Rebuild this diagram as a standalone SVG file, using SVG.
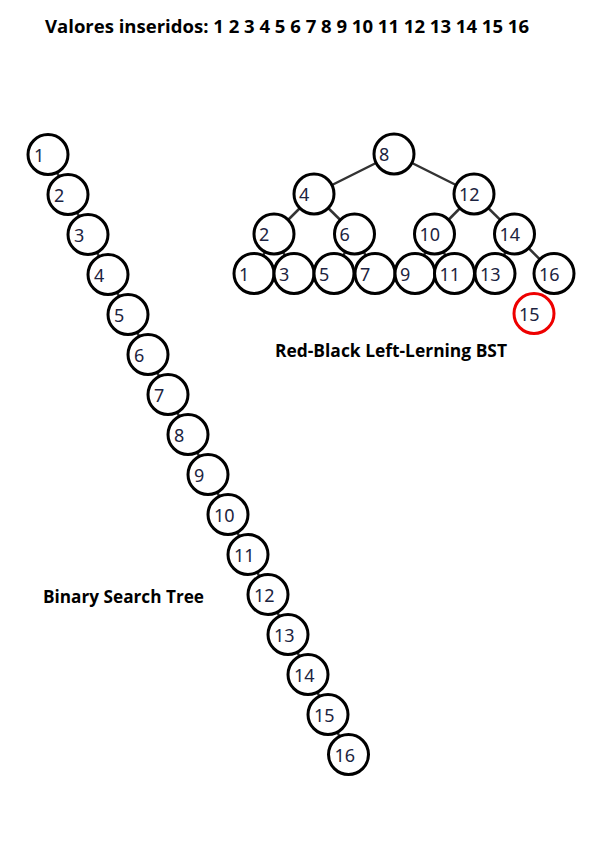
<svg xmlns="http://www.w3.org/2000/svg" width="595" height="842" viewBox="0 0 595 842">
<style>
.n{fill:#fff;stroke:#000;stroke-width:3}
.r{fill:#fff;stroke:#e00;stroke-width:3}
.t{font-family:"Noto Sans","DejaVu Sans",sans-serif;font-size:18px;fill:#1c2340}
.e{stroke:#333;stroke-width:2.5;fill:none}
.h{font-family:"Open Sans","Liberation Sans",sans-serif;font-weight:bold;font-size:17px;fill:#000}
</style>
<rect width="595" height="842" fill="#fff"/>
<text class="h" x="45" y="33" textLength="484" lengthAdjust="spacingAndGlyphs">Valores inseridos: 1 2 3 4 5 6 7 8 9 10 11 12 13 14 15 16</text>
<text class="h" x="275" y="357" textLength="232" lengthAdjust="spacingAndGlyphs">Red-Black Left-Lerning BST</text>
<text class="h" x="43" y="603" textLength="161" lengthAdjust="spacingAndGlyphs">Binary Search Tree</text>
<g id="connectors">
<line class="e" x1="48" y1="154.5" x2="348.5" y2="754.5"/>
<line class="e" x1="394" y1="154" x2="314" y2="194"/>
<line class="e" x1="394" y1="154" x2="474" y2="194"/>
<line class="e" x1="314" y1="194" x2="274" y2="234"/>
<line class="e" x1="314" y1="194" x2="354.5" y2="234"/>
<line class="e" x1="474" y1="194" x2="434.5" y2="234"/>
<line class="e" x1="474" y1="194" x2="514.5" y2="234"/>
<line class="e" x1="514.5" y1="234" x2="554" y2="273.5"/>
<line class="e" x1="274" y1="234" x2="254" y2="273.5"/>
<line class="e" x1="274" y1="234" x2="294" y2="273.5"/>
<line class="e" x1="354.5" y1="234" x2="334" y2="273.5"/>
<line class="e" x1="354.5" y1="234" x2="375" y2="273.5"/>
<line class="e" x1="434.5" y1="234" x2="415" y2="273.5"/>
<line class="e" x1="434.5" y1="234" x2="454.5" y2="273.5"/>
<line class="e" x1="514.5" y1="234" x2="495" y2="273.5"/>
</g>
<g id="bst">
<g id="b1"><circle class="n" cx="48" cy="154.5" r="20"/><text class="t" x="34" y="162">1</text></g>
<g id="b2"><circle class="n" cx="68" cy="194.5" r="20"/><text class="t" x="54" y="202">2</text></g>
<g id="b3"><circle class="n" cx="88" cy="234.5" r="20"/><text class="t" x="74" y="242">3</text></g>
<g id="b4"><circle class="n" cx="108" cy="274.5" r="20"/><text class="t" x="94" y="282">4</text></g>
<g id="b5"><circle class="n" cx="128" cy="314.5" r="20"/><text class="t" x="114" y="322">5</text></g>
<g id="b6"><circle class="n" cx="148" cy="354.5" r="20"/><text class="t" x="134" y="362">6</text></g>
<g id="b7"><circle class="n" cx="168" cy="394.5" r="20"/><text class="t" x="154" y="402">7</text></g>
<g id="b8"><circle class="n" cx="188" cy="434.5" r="20"/><text class="t" x="174" y="442">8</text></g>
<g id="b9"><circle class="n" cx="208" cy="474.5" r="20"/><text class="t" x="194" y="482">9</text></g>
<g id="b10"><circle class="n" cx="228" cy="514.5" r="20"/><text class="t" x="214" y="522">10</text></g>
<g id="b11"><circle class="n" cx="248" cy="554.5" r="20"/><text class="t" x="234" y="562">11</text></g>
<g id="b12"><circle class="n" cx="268" cy="594.5" r="20"/><text class="t" x="254" y="602">12</text></g>
<g id="b13"><circle class="n" cx="288" cy="634.5" r="20"/><text class="t" x="274" y="642">13</text></g>
<g id="b14"><circle class="n" cx="308" cy="674.5" r="20"/><text class="t" x="294" y="682">14</text></g>
<g id="b15"><circle class="n" cx="328" cy="714.5" r="20"/><text class="t" x="314" y="722">15</text></g>
<g id="b16"><circle class="n" cx="348.5" cy="754.5" r="20"/><text class="t" x="334.5" y="762">16</text></g>
</g>
<g id="rb">
<g id="r8"><circle class="n" cx="394" cy="154" r="20"/><text class="t" x="379" y="161">8</text></g>
<g id="r4"><circle class="n" cx="314" cy="194" r="20"/><text class="t" x="299" y="201">4</text></g>
<g id="r12"><circle class="n" cx="474" cy="194" r="20"/><text class="t" x="459" y="201">12</text></g>
<g id="r2"><circle class="n" cx="274" cy="234" r="20"/><text class="t" x="259" y="241">2</text></g>
<g id="r6"><circle class="n" cx="354.5" cy="234" r="20"/><text class="t" x="339.5" y="241">6</text></g>
<g id="r10"><circle class="n" cx="434.5" cy="234" r="20"/><text class="t" x="419.5" y="241">10</text></g>
<g id="r14"><circle class="n" cx="514.5" cy="234" r="20"/><text class="t" x="499.5" y="241">14</text></g>
<g id="r1"><circle class="n" cx="254" cy="273.5" r="20"/><text class="t" x="239" y="280.5">1</text></g>
<g id="r3"><circle class="n" cx="294" cy="273.5" r="20"/><text class="t" x="279" y="280.5">3</text></g>
<g id="r5"><circle class="n" cx="334" cy="273.5" r="20"/><text class="t" x="319" y="280.5">5</text></g>
<g id="r7"><circle class="n" cx="375" cy="273.5" r="20"/><text class="t" x="360" y="280.5">7</text></g>
<g id="r9"><circle class="n" cx="415" cy="273.5" r="20"/><text class="t" x="400" y="280.5">9</text></g>
<g id="r11"><circle class="n" cx="454.5" cy="273.5" r="20"/><text class="t" x="439.5" y="280.5">11</text></g>
<g id="r13"><circle class="n" cx="495" cy="273.5" r="20"/><text class="t" x="480" y="280.5">13</text></g>
<g id="r16"><circle class="n" cx="554" cy="273.5" r="20"/><text class="t" x="539" y="280.5">16</text></g>
<g id="r15"><circle class="r" cx="534" cy="313.5" r="20"/><text class="t" x="519" y="320.5">15</text></g>
</g>
</svg>
